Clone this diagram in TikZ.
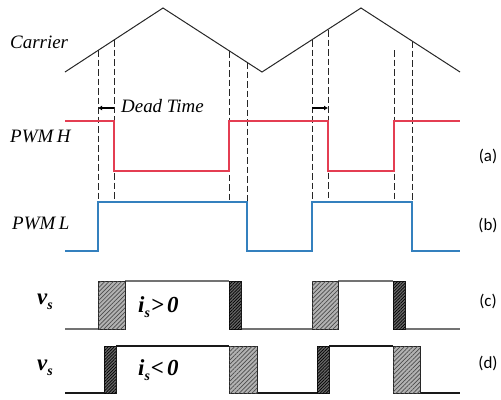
\documentclass[tikz,border=0pt]{standalone}
\usepackage{fontspec}
\setmainfont{Liberation Serif}
\newfontfamily\labfont{Carlito}
\usetikzlibrary{arrows.meta,patterns.meta}
\definecolor{pwmred}{RGB}{228,62,82}
\definecolor{pwmblue}{RGB}{52,128,190}
\newcommand{\subsc}[1]{\raisebox{-4.5bp}{\fontsize{14}{14}\selectfont #1}}
\begin{document}
\begin{tikzpicture}[x=1bp,y=-1bp,
  carrierline/.style={line width=1bp,black!85},
  dline/.style={line width=1bp,black!85,dash pattern=on 6.5bp off 3bp},
  hline/.style={line width=1.2bp,pwmred},
  lline/.style={line width=1.2bp,pwmblue},
  cwave/.style={line width=1.4bp,black!55},
  dwave/.style={line width=1.2bp,black!90},
  lightbox/.style={draw=black!85,line width=0.9bp,fill=black!30,
    postaction={pattern={Lines[angle=45,distance=3bp,line width=0.7bp]},pattern color=black!70}},
  darkbox/.style={draw=black!90,line width=0.9bp,fill=black!60,
    postaction={pattern={Lines[angle=45,distance=2.2bp,line width=0.7bp]},pattern color=black}},
  sig/.style={font=\fontsize{19}{21}\selectfont\itshape,inner sep=0pt},
  vsl/.style={font=\fontsize{23}{25}\selectfont\bfseries\itshape,inner sep=0pt},
  tag/.style={font=\labfont\fontsize{17}{19}\selectfont,inner sep=0pt},
  dtarrow/.style={line width=1.8bp,-{Latex[length=4bp,width=5bp]}}
]
\useasboundingbox (0,0) rectangle (501,399);

% carrier
\coordinate (c0) at (65,72);
\coordinate (c1) at (163,8);
\coordinate (c2) at (262,72);
\coordinate (c3) at (361,8);
\coordinate (c4) at (460,72);
\draw[carrierline] (c0) -- (c1) -- (c2) -- (c3) -- (c4);

% dashed lines
\foreach \x/\y in {98/50,114/40,229/51,247/62,312/40,328/30,394/50,412/41}
  \draw[dline] (\x,\y) -- (\x,203);

% PWM H
\draw[hline] (65,121) -| (114,171) -| (229,121) -| (328,171) -| (394,121) -- (460,121);
% PWM L
\draw[lline] (65,251) -| (98,202) -| (247,251) -| (312,202) -| (412,251) -- (460,251);

% dead time arrows
\coordinate (da1) at (114,108);
\coordinate (db1) at (98,108);
\coordinate (da2) at (312,108);
\coordinate (db2) at (328,108);
\draw[dtarrow] (da1) -- (db1);
\draw[dtarrow] (da2) -- (db2);

% (c) waveform
\draw[cwave] (65,329) -- (98,329);
\draw[cwave] (125,281) -- (229,281);
\draw[cwave] (241,329) -- (312,329);
\draw[cwave] (338,281) -- (393,281);
\draw[cwave] (405,329) -- (460,329);
\draw[lightbox] (98,281) rectangle (125,329);
\draw[darkbox] (229,281) rectangle (241,329);
\draw[lightbox] (312,281) rectangle (338,329);
\draw[darkbox] (393,281) rectangle (405,329);

% (d) waveform
\draw[dwave] (65,393) -- (104,393);
\draw[dwave] (116,346) -- (229,346);
\draw[dwave] (257,393) -- (317,393);
\draw[dwave] (329,346) -- (393,346);
\draw[dwave] (420,393) -- (460,393);
\draw[darkbox] (104,346) rectangle (116,393);
\draw[lightbox] (229,346) rectangle (257,393);
\draw[darkbox] (317,346) rectangle (329,393);
\draw[lightbox] (393,346) rectangle (420,393);

% labels
\node[sig,anchor=west] (lcar) at (10,42) {Carrier};
\node[sig,anchor=west] (lpwmh) at (10,136) {PWM\kern3.5bp H};
\node[sig,anchor=west] (lpwml) at (12,223) {PWM\kern3.5bp L};
\node[sig,anchor=west] (ldt) at (121,106) {Dead Time};
\node[vsl] (lvs1) at (45,302) {v\subsc{s}};
\node[vsl] (lvs2) at (45,368) {v\subsc{s}};
\node[vsl,anchor=west] (lis1) at (138,307) {i\subsc{s}\kern1bp{>}\kern3bp0};
\node[vsl,anchor=west] (lis2) at (138,370) {i\subsc{s}\kern1bp{<}\kern3bp0};
\node[tag] (ta) at (488,156) {(a)};
\node[tag] (tb) at (488,225) {(b)};
\node[tag] (tc) at (488,301) {(c)};
\node[tag] (td) at (488,363) {(d)};
\end{tikzpicture}
\end{document}
